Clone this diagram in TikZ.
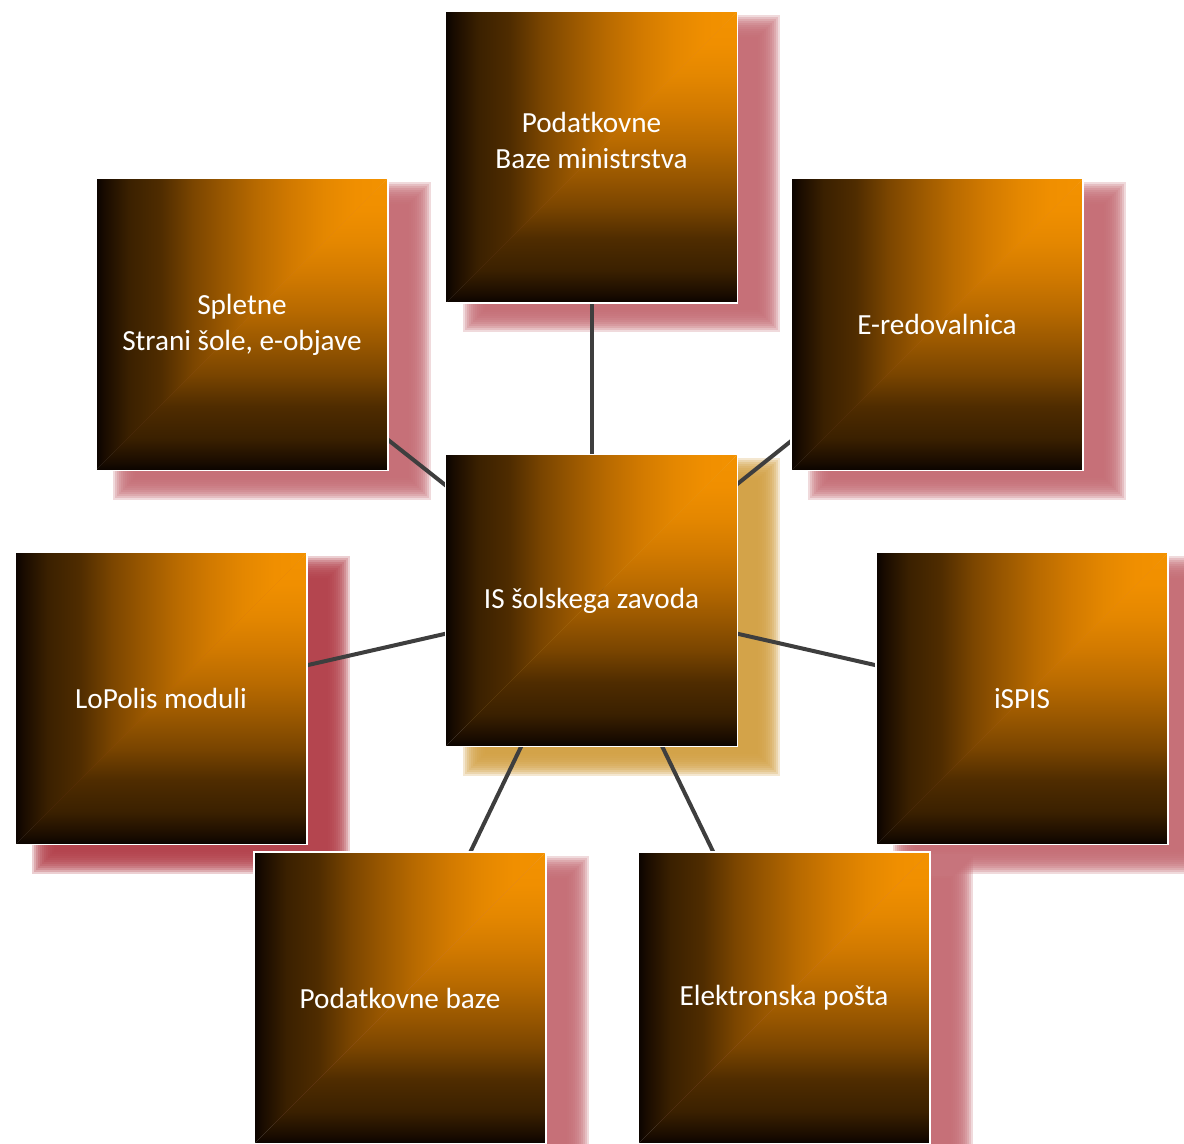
\documentclass[tikz,border=0pt]{standalone}
\usepackage{fontspec}
\setmainfont{Carlito}
\usepackage{tikz}

\definecolor{tileorange}{HTML}{F39200}
\definecolor{rampa}{HTML}{0A0300}
\definecolor{rampb}{HTML}{1A0C00}
\definecolor{rampc}{HTML}{3A2000}
\definecolor{rampd}{HTML}{4F2C00}
\definecolor{rampe}{HTML}{7A4500}
\definecolor{rampf}{HTML}{9A5800}
\definecolor{rampg}{HTML}{B86A00}
\definecolor{ramph}{HTML}{D27A00}
\definecolor{rampi}{HTML}{E48700}
\definecolor{rampj}{HTML}{F08F00}
\definecolor{shadepink}{HTML}{C46C74}
\definecolor{shadered}{HTML}{B2404A}
\definecolor{shadegold}{HTML}{D2A044}
\definecolor{linkgray}{HTML}{3E3E3E}

\pgfdeclarehorizontalshading{tileh}{100bp}{color(0bp)=(rampa); color(25bp)=(rampa);
  color(26.5bp)=(rampb); color(30.5bp)=(rampc); color(36bp)=(rampd); color(41.5bp)=(rampe);
  color(47bp)=(rampf); color(52.5bp)=(rampg); color(58.5bp)=(ramph); color(64bp)=(rampi);
  color(69.5bp)=(rampj); color(75bp)=(tileorange); color(100bp)=(tileorange)}
\pgfdeclareverticalshading{tilev}{100bp}{color(0bp)=(rampa); color(25bp)=(rampa);
  color(26.5bp)=(rampb); color(30.5bp)=(rampc); color(36bp)=(rampd); color(41.5bp)=(rampe);
  color(47bp)=(rampf); color(52.5bp)=(rampg); color(58.5bp)=(ramph); color(64bp)=(rampi);
  color(69.5bp)=(rampj); color(75bp)=(tileorange); color(100bp)=(tileorange)}

\pgfdeclarelayer{shadow}
\pgfdeclarelayer{links}
\pgfsetlayers{shadow,links,main}

\tikzset{
  tile/.style={rectangle, minimum width=146pt, minimum height=146pt, inner sep=0pt,
    draw=white, line width=0.8pt, text=white, align=center,
    font=\fontsize{14.6}{18}\selectfont,
    path picture={
      \shade[shading=tileh]
        (path picture bounding box.south west) -- (path picture bounding box.north west)
        -- (path picture bounding box.north east) -- cycle;
      \shade[shading=tilev]
        (path picture bounding box.south west) -- (path picture bounding box.south east)
        -- (path picture bounding box.north east) -- cycle;
    }},
  link/.style={draw=linkgray, line width=2pt}
}

% soft shadow behind a tile: #1 node, #2 colour
\newcommand{\tileshadow}[2]{%
  \foreach \e in {-10,-8,...,12}
    \fill[#2, opacity=0.25] ([shift={({30-\e},{-16.5+\e})}]#1.north west)
      rectangle ([shift={({30+\e},{-16.5-\e})}]#1.south east);
}

\begin{document}
\begin{tikzpicture}[x=0.5pt,y=0.5pt]
    \useasboundingbox (0,0) rectangle (1184,-1144);
    \node[tile, text depth=17pt] (top) at (591.5,-157) {Podatkovne\\Baze ministrstva};
    \node[tile] (web) at (242,-324.5) {Spletne\\Strani šole, e-objave};
    \node[tile] (ered) at (937,-324.5) {E-redovalnica};
    \node[tile] (hub) at (591.5,-600.5) {IS šolskega zavoda};
    \node[tile] (lopolis) at (161,-698.5) {LoPolis moduli};
    \node[tile] (ispis) at (1022,-698.5) {iSPIS};
    \node[tile] (db) at (400,-998) {Podatkovne baze};
    \node[tile] (mail) at (784,-998) {Elektronska pošta};
    \begin{pgfonlayer}{shadow}
      \foreach \n in {top,web,ered,ispis,db,mail}
        \tileshadow{\n}{shadepink};
      \tileshadow{lopolis}{shadered}
      \tileshadow{hub}{shadegold}
    \end{pgfonlayer}
    \begin{pgfonlayer}{links}
      \foreach \n in {top,web,ered,lopolis,ispis,db,mail}
        \draw[link] (hub.center) -- (\n.center);
    \end{pgfonlayer}
\end{tikzpicture}
\end{document}
